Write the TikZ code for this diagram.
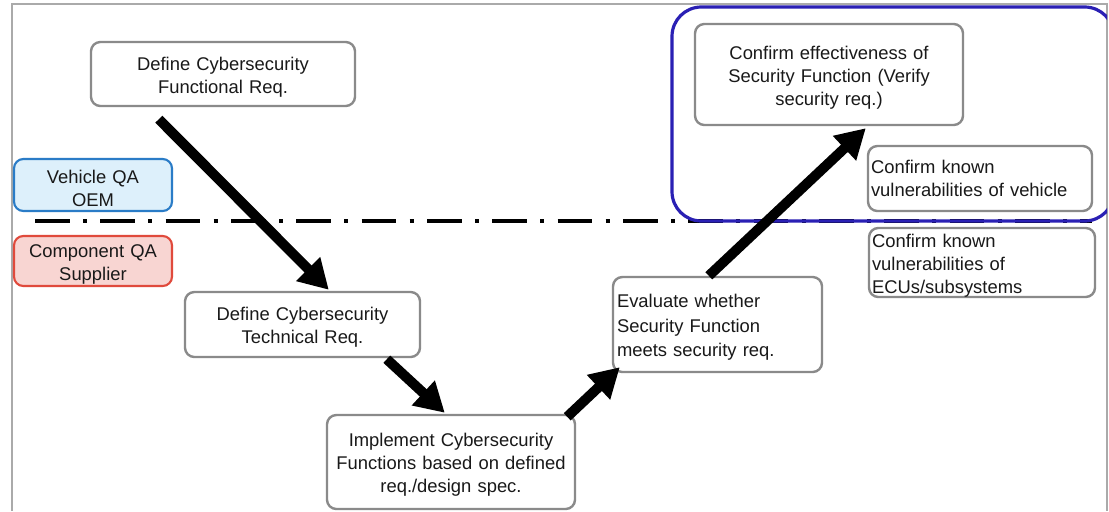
\documentclass[tikz,border=0pt]{standalone}
\usepackage{fontspec}
\setmainfont{Liberation Sans}
\usetikzlibrary{arrows.meta,calc}
\definecolor{boxgray}{HTML}{8A8A8A}
\definecolor{framegray}{HTML}{AAAAAA}
\definecolor{vfill}{HTML}{DDF0FB}
\definecolor{vline}{HTML}{2A7CC7}
\definecolor{cfill}{HTML}{F8D5D2}
\definecolor{cline}{HTML}{E04A3C}
\definecolor{hiblue}{HTML}{2A20B4}
\newcommand{\lowstrut}{\rule{0pt}{14.5pt}}
\begin{document}
\begin{tikzpicture}[x=0.75pt,y=-0.75pt,
  every node/.style={font=\fontsize{13.8}{17.2}\selectfont, text=black!90},
  low/.style={execute at begin node=\lowstrut},
  box/.style={low, draw=boxgray, line width=1.8pt, rounded corners=7pt, fill=white, inner sep=0pt, align=center},
  lbox/.style={draw=boxgray, line width=1.8pt, rounded corners=7pt, fill=white, inner xsep=2.25pt, inner ysep=0pt, align=left},
  vbox/.style={low, draw=vline, fill=vfill, line width=1.6pt, rounded corners=7pt, inner sep=0pt, align=center},
  cbox/.style={low, draw=cline, fill=cfill, line width=1.6pt, rounded corners=7pt, inner sep=0pt, align=center},
  bigarrow/.style={line width=7.5pt, -{Triangle[width=24pt,length=22pt]}},
  divider/.style={line width=3pt, dash pattern=on 26pt off 10pt on 3pt off 10pt},
  frame/.style={draw=framegray, line width=1.5pt}]
\useasboundingbox (0,0) rectangle (1109,511);
\fill[white] (0,0) rectangle (1109,511);
% outer frame
\draw[frame] (12,511) -- (12,4) -- (1107,4) -- (1107,511);
% divider
\draw[divider] (35,221) -- (1092,221);
% boxes
\node[box, text width=198pt, minimum height=48pt] (f) at (223,74) {Define Cybersecurity\\Functional Req.};
\node[vbox, text width=118.5pt, minimum height=39pt] (v) at (93,185) {Vehicle QA\\OEM};
\node[cbox, text width=118.5pt, minimum height=37.5pt] (cq) at (93,261) {Component QA\\Supplier};
\node[box, text width=176.25pt, minimum height=48.75pt] (t) at (302.5,324.5) {Define Cybersecurity\\Technical Req.};
\node[box, text width=186pt, minimum height=70.5pt] (i) at (451,462) {Implement Cybersecurity\\Functions based on defined\\req./design spec.};
\node[lbox, low, inner xsep=3pt, text width=150.75pt, minimum height=71.25pt, font=\fontsize{13.8}{18.2}\selectfont] (e) at (717.5,324.5) {Evaluate whether\\Security Function\\meets security req.};
\node[box, text width=201pt, minimum height=75.75pt] (c) at (829,74.5) {Confirm effectiveness of\\Security Function (Verify\\security req.)};
\node[lbox, text width=163.5pt, minimum height=48.75pt] (kv) at (980,178.5) {Confirm known\\vulnerabilities of vehicle};
\node[lbox, low, text width=165pt, minimum height=48.75pt] (ke) at (982,262.5) {Confirm known\\vulnerabilities of\\ECUs/subsystems};
% highlight
\begin{scope}
\clip (0,0) rectangle (1107,511);
\draw[hiblue, line width=2.4pt, rounded corners=22pt] (672,7) rectangle (1114,221);
\end{scope}
% arrows
\draw[bigarrow] ([shift={(69,12)}]f.south west) -- ([shift={(145,-1)}]t.north west);
\draw[bigarrow] ([shift={(203,1)}]t.south west) -- ([shift={(119,-1)}]i.north west);
\draw[bigarrow] ([shift={(-9,3)}]i.north east) -- ([shift={(8,-6)}]e.south west);
\draw[bigarrow] ([shift={(97,0)}]e.north west) -- ([shift={(172,2)}]c.south west);
\end{tikzpicture}
\end{document}
